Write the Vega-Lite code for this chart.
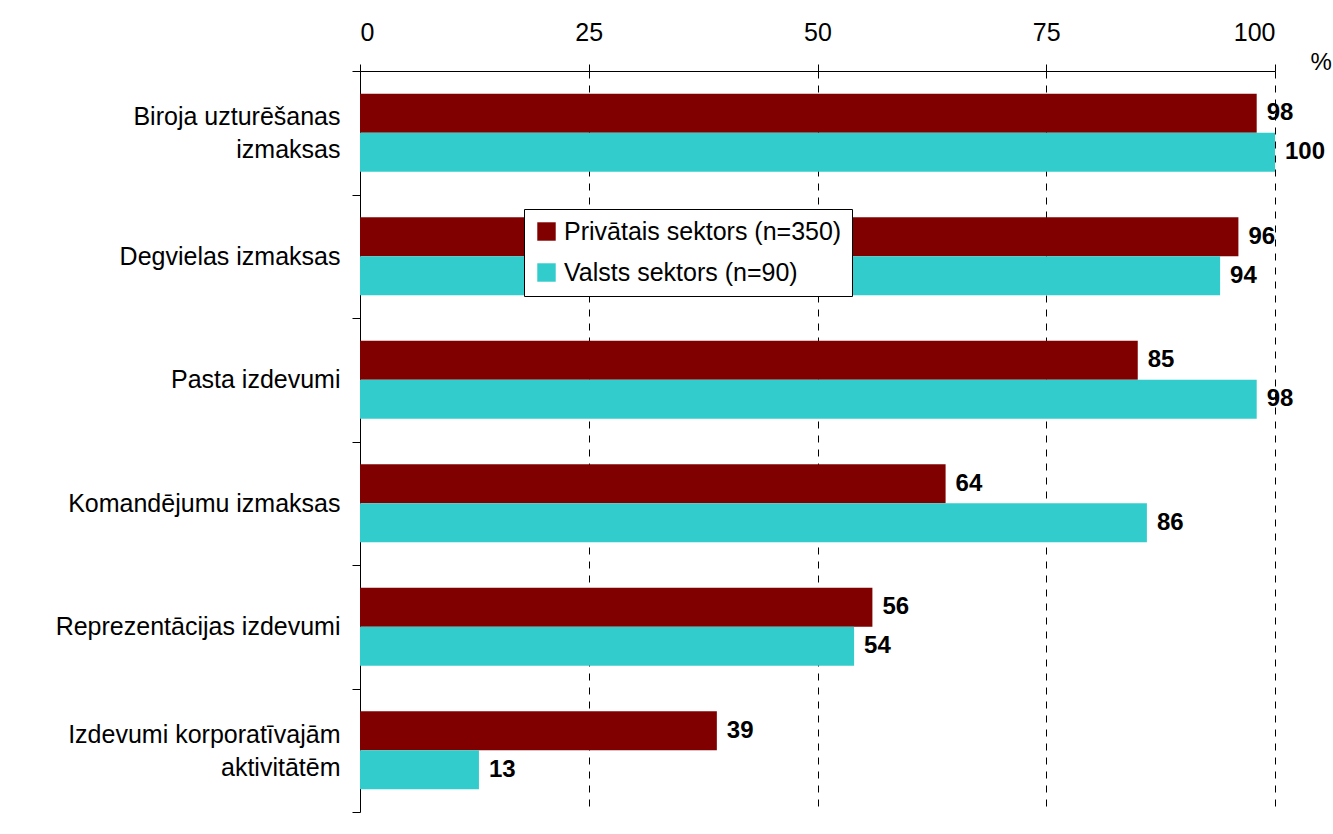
{
  "$schema": "https://vega.github.io/schema/vega-lite/v6.json",
  "width": 915,
  "height": 741,
  "autosize": {"type": "none"},
  "padding": {"left": 360, "top": 71, "right": 58, "bottom": 22},
  "background": "white",
  "config": {
    "view": {"stroke": null},
    "font": "Liberation Sans",
    "axis": {"labelFont": "Liberation Sans", "titleFont": "Liberation Sans"},
    "legend": {"labelFont": "Liberation Sans"}
  },
  "data": {
    "values": [
      {"category": "Biroja uzturēšanas|izmaksas", "sector": "Privātais sektors (n=350)", "value": 98},
      {"category": "Biroja uzturēšanas|izmaksas", "sector": "Valsts sektors (n=90)", "value": 100},
      {"category": "Degvielas izmaksas", "sector": "Privātais sektors (n=350)", "value": 96},
      {"category": "Degvielas izmaksas", "sector": "Valsts sektors (n=90)", "value": 94},
      {"category": "Pasta izdevumi", "sector": "Privātais sektors (n=350)", "value": 85},
      {"category": "Pasta izdevumi", "sector": "Valsts sektors (n=90)", "value": 98},
      {"category": "Komandējumu izmaksas", "sector": "Privātais sektors (n=350)", "value": 64},
      {"category": "Komandējumu izmaksas", "sector": "Valsts sektors (n=90)", "value": 86},
      {"category": "Reprezentācijas izdevumi", "sector": "Privātais sektors (n=350)", "value": 56},
      {"category": "Reprezentācijas izdevumi", "sector": "Valsts sektors (n=90)", "value": 54},
      {"category": "Izdevumi korporatīvajām|aktivitātēm", "sector": "Privātais sektors (n=350)", "value": 39},
      {"category": "Izdevumi korporatīvajām|aktivitātēm", "sector": "Valsts sektors (n=90)", "value": 13}
    ]
  },
  "encoding": {
    "y": {
      "field": "category",
      "type": "nominal",
      "sort": null,
      "scale": {"paddingInner": 0, "paddingOuter": 0},
      "axis": {
        "title": null,
        "domainColor": "black",
        "domainWidth": 1,
        "tickColor": "black",
        "tickSize": 8,
        "tickBand": "extent",
        "labelFontSize": 25,
        "labelColor": "black",
        "labelPadding": 12,
        "labelLineHeight": 33,
        "labelLimit": 400,
        "labelOffset": {"condition": {"test": "indexof(datum.label, '|') >= 0", "value": -16}, "value": 0},
        "labelExpr": "split(datum.label, '|')"
      }
    },
    "yOffset": {
      "field": "sector",
      "type": "nominal",
      "sort": ["Privātais sektors (n=350)", "Valsts sektors (n=90)"],
      "scale": {"paddingInner": 0, "paddingOuter": 0.583}
    },
    "x": {
      "field": "value",
      "type": "quantitative",
      "scale": {"domain": [0, 100], "nice": false},
      "axis": {
        "orient": "top",
        "values": [0, 25, 50, 75, 100],
        "title": "%",
        "titleX": 950,
        "titleY": -9,
        "titleAlign": "left",
        "titleBaseline": "middle",
        "titleFontSize": 24,
        "titleFontWeight": "normal",
        "titleColor": "black",
        "domainColor": "black",
        "tickColor": "black",
        "tickSize": 7,
        "labelFontSize": 25,
        "labelColor": "black",
        "labelPadding": 19,
        "grid": true,
        "gridColor": "black",
        "gridDash": [7, 7],
        "gridWidth": 1,
        "gridOpacity": 1
      }
    }
  },
  "layer": [
    {
      "mark": {"type": "bar"},
      "encoding": {
        "color": {
          "field": "sector",
          "type": "nominal",
          "scale": {
            "domain": ["Privātais sektors (n=350)", "Valsts sektors (n=90)"],
            "range": ["#800000", "#33CCCC"]
          },
          "legend": {
            "title": null,
            "orient": "none",
            "legendX": 164,
            "legendY": 138,
            "fillColor": "white",
            "strokeColor": "black",
            "padding": 10,
            "symbolType": "square",
            "symbolSize": 340,
            "symbolStrokeWidth": 0,
            "symbolOffset": 0,
            "labelFontSize": 25,
            "labelColor": "black",
            "labelOffset": 5,
            "rowPadding": 15,
            "labelLimit": 400
          }
        }
      }
    },
    {
      "mark": {
        "type": "text",
        "align": "left",
        "baseline": "middle",
        "dx": 10,
        "fontSize": 24,
        "fontWeight": "bold",
        "color": "black"
      },
      "encoding": {"text": {"field": "value", "type": "quantitative"}}
    }
  ]
}
